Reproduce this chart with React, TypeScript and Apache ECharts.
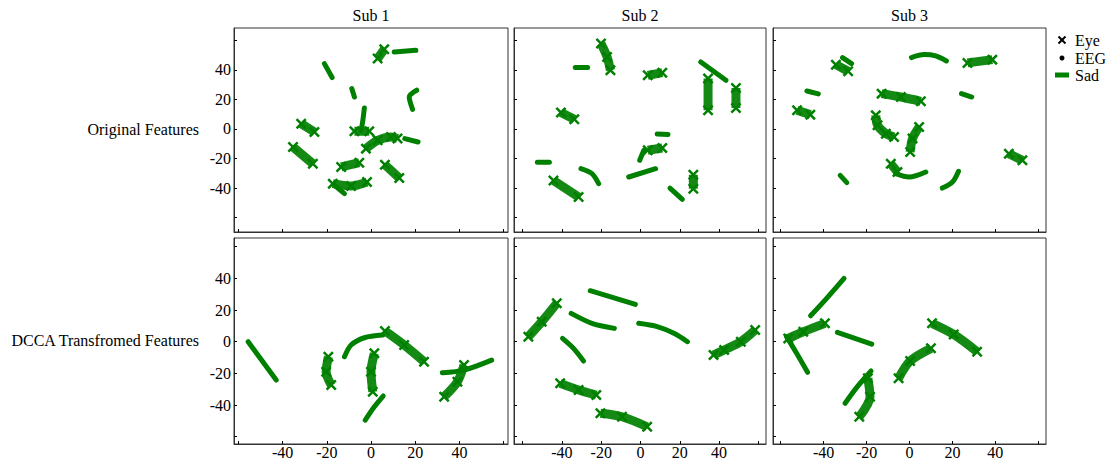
import React, { useEffect, useRef } from "react";
import * as echarts from "echarts";

type Seg = [number, number][];

// Column titles, row labels, legend
const subTitles = ["Sub 1", "Sub 2", "Sub 3"];
const rowLabels = ["Original Features", "DCCA Transfromed Features"];
const legendNames = ["Eye", "EEG", "Sad"];
const tickValues = [-60, -40, -20, 0, 20, 40, 60];
const labelValues = [-40, -20, 0, 20, 40];

// ---- Original features (top row) ----
const sub1OrigEye: Seg[] = [
  [[3.0, 47.6], [6.0, 53.9]],
  [[-7.5, -1.6], [-0.8, -1.6]],
  [[-2.3, -13.3], [3.0, -7.7], [9.0, -5.4], [12.0, -6.5]],
  [[-31.6, 3.6], [-25.6, -2.1]],
  [[-35.3, -12.2], [-26.3, -23.5]],
  [[-13.5, -25.7], [-5.3, -22.8]],
  [[6.3, -24.2], [12.8, -33.2]],
  [[-17.3, -37.0], [-9.0, -38.6], [-1.8, -35.9]],
];
const sub1OrigEEG: Seg[] = [
  [[10.5, 52.1], [20.3, 53.2]],
  [[-21.1, 44.2], [-17.6, 34.8]],
  [[-8.7, 27.3], [-7.5, 21.6]],
  [[20.7, 26.2], [17.3, 21.6], [18.8, 13.3]],
  [[-3.0, 14.2], [-3.8, 4.7], [-4.5, -0.9]],
  [[15.3, -6.5], [21.3, -8.8]],
  [[-16.5, -38.1], [-12.0, -43.8]],
];
const sub2OrigEye: Seg[] = [
  [[-20.1, 57.8], [-17.0, 48.7], [-15.3, 39.7]],
  [[3.7, 36.3], [11.1, 38.1]],
  [[34.4, 34.1], [34.4, 12.6]],
  [[48.6, 27.7], [48.6, 14.2]],
  [[-40.5, 11.1], [-33.7, 6.5]],
  [[3.7, -14.4], [11.1, -12.9]],
  [[-44.3, -34.8], [-31.5, -46.1]],
  [[26.9, -30.9], [26.9, -40.4]],
];
const sub2OrigEEG: Seg[] = [
  [[-33.2, 41.5], [-26.9, 41.5]],
  [[30.7, 45.3], [43.5, 32.9]],
  [[8.5, -3.4], [14.0, -3.8]],
  [[1.7, -14.4], [-0.4, -21.2]],
  [[-52.5, -22.6], [-46.4, -22.6]],
  [[-30.3, -26.8], [-24.7, -30.2], [-21.3, -37.0]],
  [[-6.0, -32.5], [7.7, -26.9]],
  [[15.0, -40.0], [21.3, -47.6]],
];
const sub3OrigEye: Seg[] = [
  [[27.0, 44.7], [38.6, 46.9]],
  [[-34.3, 43.5], [-28.6, 39.0]],
  [[-13.0, 23.9], [-4.0, 21.6], [5.3, 18.7]],
  [[-52.4, 12.6], [-46.2, 9.7]],
  [[-15.7, 9.2], [-14.9, 2.5], [-11.0, -3.2], [-7.2, -5.4]],
  [[4.5, 1.3], [1.4, -6.5], [0.3, -15.6]],
  [[46.3, -16.7], [52.6, -21.2]],
  [[-8.7, -23.5], [-5.6, -29.1]],
];
const sub3OrigEEG: Seg[] = [
  [[0.9, 48.3], [6.8, 50.3], [12.2, 49.4], [17.2, 46.0]],
  [[-31.2, 48.3], [-27.0, 44.2]],
  [[-47.8, 25.7], [-42.5, 23.7]],
  [[24.2, 23.9], [29.0, 21.6]],
  [[-6.4, -30.2], [-0.2, -32.5], [7.6, -29.1]],
  [[-32.3, -31.4], [-29.2, -36.3]],
  [[15.3, -40.0], [20.0, -35.9], [22.8, -28.7]],
];

// ---- DCCA transformed features (bottom row) ----
const sub1DccaEye: Seg[] = [
  [[-19.3, -9.5], [-20.3, -19.0], [-18.0, -27.4]],
  [[6.3, 6.8], [15.0, -2.1], [24.0, -12.6]],
  [[1.5, -7.3], [0, -19.0], [0.8, -31.6]],
  [[33.1, -34.7], [39.1, -25.3], [42.1, -14.7]],
];
const sub1DccaEEG: Seg[] = [
  [[-55.6, 0], [-42.9, -24.2]],
  [[-12.0, -9.5], [-9.0, -2.1], [-3.0, 2.5], [5.3, 4.2]],
  [[-2.6, -49.5], [1.5, -41.1], [5.5, -34.3]],
  [[32.3, -19.6], [42.1, -17.9], [54.6, -11.6]],
];
const sub2DccaEye: Seg[] = [
  [[-57.1, 3.2], [-50.3, 12.6], [-42.6, 24.3]],
  [[37.2, -8.4], [42.6, -5.2], [51.1, 0], [58.4, 7.4]],
  [[-40.9, -26.3], [-31.5, -30.5], [-22.5, -33.7]],
  [[-20.4, -45.2], [-9.4, -47.4], [3.4, -53.7]],
];
const sub2DccaEEG: Seg[] = [
  [[-25.6, 32.2], [-2.6, 23.6]],
  [[-35.3, 17.9], [-24.7, 11.6], [-13.3, 8.4]],
  [[-0.9, 11.6], [8.5, 9.5], [17.0, 5.3], [23.9, 0]],
  [[-39.7, 2.1], [-34.1, -4.2], [-29.0, -12.2]],
];
const sub3DccaEye: Seg[] = [
  [[-56.5, 2.1], [-49.5, 6.3], [-39.4, 11.6]],
  [[-19.4, -23.1], [-18.4, -34.7], [-23.4, -47.4]],
  [[-5.1, -23.1], [0.3, -12.2], [10.0, -4.2]],
  [[10.5, 11.6], [20.6, 4.6], [31.5, -6.3]],
];
const sub3DccaEEG: Seg[] = [
  [[-46.1, 16.4], [-38.6, 27.4], [-30.5, 40.0]],
  [[-57.3, 3.2], [-52.6, -7.3], [-47.5, -19.3]],
  [[-33.6, 5.9], [-17.6, -1.5]],
  [[-30.0, -38.9], [-24.3, -28.4], [-17.9, -18.5]],
];

const panelEye = [sub1OrigEye, sub2OrigEye, sub3OrigEye, sub1DccaEye, sub2DccaEye, sub3DccaEye];
const panelEEG = [sub1OrigEEG, sub2OrigEEG, sub3OrigEEG, sub1DccaEEG, sub2DccaEEG, sub3DccaEEG];

const GREEN = "#008000";
const AXIS = "#333333";
const FONT = "Liberation Serif";
const XMARK =
  "path://M0,1.6L1.6,0L5,3.4L8.4,0L10,1.6L6.6,5L10,8.4L8.4,10L5,6.6L1.6,10L0,8.4L3.4,5Z";

const colBox = [
  { left: 234, width: 274 },
  { left: 514, width: 252 },
  { left: 773, width: 273 },
];
const rowBox = [
  { top: 28, height: 204 },
  { top: 238, height: 206 },
];
const colX = [
  [-62, 62],
  [-64.4, 63.9],
  [-63.6, 63.6],
];
const rowY = [
  [-69.7, 68.3],
  [-64.6, 65.5],
];

export default function App() {
  const ref = useRef<HTMLDivElement>(null);
  useEffect(() => {
    if (!ref.current) return;
    const chart = echarts.init(ref.current, null, { renderer: "svg" });
    const grids: any[] = [];
    const xAxes: any[] = [];
    const yAxes: any[] = [];
    const series: any[] = [];
    for (let r = 0; r < 2; r++) {
      for (let c = 0; c < 3; c++) {
        const i = r * 3 + c;
        grids.push({
          left: colBox[c].left,
          width: colBox[c].width,
          top: rowBox[r].top,
          height: rowBox[r].height,
          show: true,
          borderColor: AXIS,
          borderWidth: 1,
          outerBoundsMode: "none",
          containLabel: false,
        });
        xAxes.push({
          type: "value",
          gridIndex: i,
          min: colX[c][0],
          max: colX[c][1],
          axisLine: { show: true, onZero: false, lineStyle: { color: AXIS, width: 1 } },
          axisTick: {
            show: true,
            inside: true,
            length: 3,
            customValues: tickValues,
            lineStyle: { color: "#000" },
          },
          axisLabel: {
            show: r === 1,
            customValues: labelValues,
            margin: 1,
            lineHeight: 14,
            color: "#000",
            fontFamily: FONT,
            fontSize: 16,
          },
          splitLine: { show: false },
        });
        yAxes.push({
          type: "value",
          gridIndex: i,
          min: rowY[r][0],
          max: rowY[r][1],
          axisLine: { show: true, onZero: false, lineStyle: { color: AXIS, width: 1 } },
          axisTick: {
            show: true,
            inside: true,
            length: 3,
            customValues: tickValues,
            lineStyle: { color: "#000" },
          },
          axisLabel: {
            show: c === 0,
            customValues: labelValues,
            margin: 3,
            color: "#000",
            fontFamily: FONT,
            fontSize: 16,
          },
          splitLine: { show: false },
        });
        panelEEG[i].forEach((seg) => {
          series.push({
            type: "line",
            name: "EEG",
            xAxisIndex: i,
            yAxisIndex: i,
            data: seg,
            symbol: "none",
            smooth: 0.3,
            lineStyle: { color: GREEN, width: 5, cap: "round", join: "round" },
            silent: true,
          });
        });
        panelEye[i].forEach((seg) => {
          series.push({
            type: "line",
            name: "Eye",
            xAxisIndex: i,
            yAxisIndex: i,
            data: seg,
            symbol: XMARK,
            symbolSize: 11,
            showSymbol: true,
            showAllSymbol: true,
            smooth: 0.3,
            itemStyle: { color: GREEN, opacity: 1 },
            lineStyle: { color: GREEN, width: 9, cap: "butt", join: "round", opacity: 0.92 },
            silent: true,
          });
        });
      }
    }

    const graphic: any[] = [];
    subTitles.forEach((t, c) => {
      graphic.push({
        type: "text",
        x: colBox[c].left + colBox[c].width / 2,
        y: 15,
        style: { text: t, fill: "#000", font: `16px "${FONT}"`, textAlign: "center", textVerticalAlign: "middle" },
      });
    });
    rowLabels.forEach((t, r) => {
      graphic.push({
        type: "text",
        x: 199,
        y: r === 0 ? 129 : 340,
        style: { text: t, fill: "#000", font: `16px "${FONT}"`, textAlign: "right", textVerticalAlign: "middle" },
      });
    });
    // legend
    const lx = 1062;
    const ly = [40, 58, 75];
    graphic.push({ type: "line", shape: { x1: lx - 3.5, y1: ly[0] - 3.5, x2: lx + 3.5, y2: ly[0] + 3.5 }, style: { stroke: "#000", lineWidth: 2 } });
    graphic.push({ type: "line", shape: { x1: lx - 3.5, y1: ly[0] + 3.5, x2: lx + 3.5, y2: ly[0] - 3.5 }, style: { stroke: "#000", lineWidth: 2 } });
    graphic.push({ type: "circle", shape: { cx: lx, cy: ly[1], r: 2.5 }, style: { fill: "#000" } });
    graphic.push({ type: "rect", shape: { x: 1055, y: ly[2] - 2.5, width: 14, height: 5 }, style: { fill: GREEN } });
    legendNames.forEach((t, k) => {
      graphic.push({
        type: "text",
        x: 1075,
        y: ly[k],
        style: { text: t, fill: "#000", font: `16px "${FONT}"`, textAlign: "left", textVerticalAlign: "middle" },
      });
    });

    chart.setOption({
      animation: false,
      backgroundColor: "#fff",
      grid: grids,
      xAxis: xAxes,
      yAxis: yAxes,
      series,
      graphic,
    });
    return () => chart.dispose();
  }, []);
  return (
    <div
      ref={ref}
      style={{ position: "absolute", left: 0, top: 0, width: 1109, height: 459 }}
    />
  );
}
